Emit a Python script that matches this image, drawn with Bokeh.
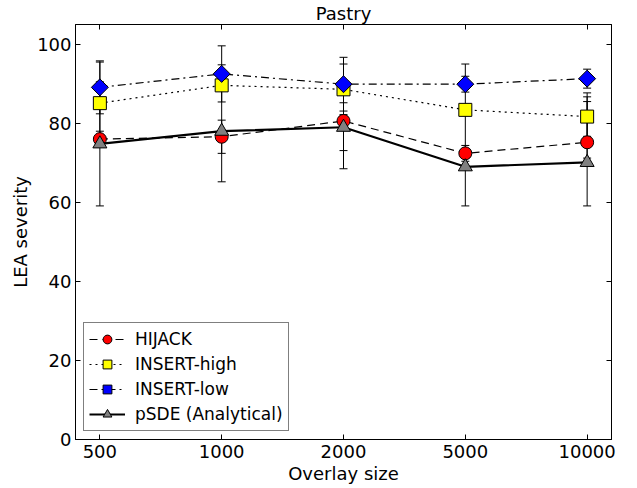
from bokeh.plotting import figure
from bokeh.models import (Range1d, FixedTicker, LinearAxis, ColumnDataSource, Whisker,
                          TeeHead, Legend, LegendItem)
from bokeh.embed import file_html
from bokeh.resources import INLINE
import numpy as np

# ---- data ----
overlay_sizes = ["500", "1000", "2000", "5000", "10000"]

hijack = [76.0, 76.6, 80.6, 72.4, 75.2]
hijack_lo = [74.0, 72.4, 73.1, 70.4, 71.2]
hijack_hi = [78.0, 80.8, 85.2, 74.4, 85.5]

insert_high = [85.1, 89.6, 88.6, 83.4, 81.7]
insert_high_lo = [74.7, 88.9, 82.2, 83.0, 76.7]
insert_high_hi = [95.5, 90.2, 95.0, 83.8, 86.7]

insert_low = [89.1, 92.5, 89.9, 89.9, 91.3]
insert_low_lo = [82.4, 85.4, 83.1, 87.9, 88.9]
insert_low_hi = [95.8, 99.6, 96.7, 91.9, 93.7]

p_sde = [74.8, 78.0, 79.0, 69.0, 70.1]
p_sde_lo = [59.1, 65.2, 68.5, 59.1, 59.1]
p_sde_hi = [90.5, 94.8, 90.4, 95.0, 87.7]

y_ticks = [0, 20, 40, 60, 80, 100]

FONT = "DejaVu Sans"
xs = list(range(len(overlay_sizes)))

p = figure(width=637, height=488, output_backend="svg", toolbar_location=None,
           x_range=Range1d(-0.2, len(overlay_sizes) - 1 + 0.2), y_range=Range1d(0, 105),
           min_border_left=75, min_border_right=26, min_border_top=0, min_border_bottom=49,
           title="Pastry")
p.title.align = "center"
p.title.text_font = FONT
p.title.text_font_size = "18px"
p.title.text_font_style = "normal"
p.title.text_color = "black"
p.title.standoff = 1
p.title.offset = 0
p.xgrid.visible = False
p.ygrid.visible = False
p.outline_line_color = "black"
p.outline_line_width = 1
p.background_fill_color = "white"
p.border_fill_color = "white"

def style_axis(ax, labels=True):
    ax.axis_line_color = "black"
    ax.major_tick_in = 5
    ax.major_tick_out = 0
    ax.minor_tick_line_color = None
    ax.major_tick_line_color = "black"
    ax.major_label_text_font = FONT
    ax.major_label_text_font_size = "18px"
    ax.major_label_text_color = "black"
    ax.axis_label_text_font = FONT
    ax.axis_label_text_font_size = "18px"
    ax.axis_label_text_font_style = "normal"
    ax.axis_label_text_color = "black"
    if not labels:
        ax.major_label_text_font_size = "1px"
        ax.major_label_standoff = 0

xax = p.xaxis[0]
yax = p.yaxis[0]
xax.ticker = FixedTicker(ticks=xs)
xax.major_label_overrides = {i: s for i, s in enumerate(overlay_sizes)}
yax.ticker = FixedTicker(ticks=y_ticks)
xax.axis_label = "Overlay size"
yax.axis_label = "LEA severity"
style_axis(xax)
style_axis(yax)
xax.major_label_standoff = 5
xax.axis_label_standoff = 2
yax.major_label_standoff = 4
yax.axis_label_standoff = 3

top = LinearAxis(ticker=FixedTicker(ticks=xs), major_label_overrides={i: "" for i in xs})
right = LinearAxis(ticker=FixedTicker(ticks=y_ticks), major_label_overrides={t: "" for t in y_ticks})
style_axis(top, labels=False)
style_axis(right, labels=False)
p.add_layout(top, "above")
p.add_layout(right, "right")

series = [
    ("HIJACK", hijack, hijack_lo, hijack_hi, "circle", "#ff0000", 13, 0.0, "8 5", 1.2),
    ("INSERT-high", insert_high, insert_high_lo, insert_high_hi, "square", "#ffff00", 13, 0.0, "2 4", 1.2),
    ("INSERT-low", insert_low, insert_low_lo, insert_low_hi, "square", "#0000ff", 12, np.pi / 4, "8 4 2 4", 1.2),
    ("pSDE (Analytical)", p_sde, p_sde_lo, p_sde_hi, "triangle", "#808080", 14, 0.0, "solid", 2.2),
]

# error bars first (underneath)
for name, ys, lo, hi, marker, color, size, angle, dash, lw in series:
    src = ColumnDataSource(dict(x=xs, lo=lo, hi=hi))
    w = Whisker(base="x", lower="lo", upper="hi", source=src, line_color="black", line_width=1,
                upper_head=TeeHead(size=8, line_color="black", line_width=1),
                lower_head=TeeHead(size=8, line_color="black", line_width=1))
    p.add_layout(w)

items = []
for name, ys, lo, hi, marker, color, size, angle, dash, lw in series:
    src = ColumnDataSource(dict(x=xs, y=ys))
    ln = p.line("x", "y", source=src, line_color="black", line_width=lw, line_dash=dash)
    sc = p.scatter("x", "y", source=src, marker=marker, size=size, angle=angle,
                   fill_color=color, line_color="black", line_width=1)
    items.append(LegendItem(label=name, renderers=[ln, sc]))

legend = Legend(items=items, location="bottom_left", margin=8, padding=5,
                glyph_width=36, glyph_height=22, label_height=22, spacing=3,
                label_standoff=10, label_text_font=FONT, label_text_font_size="17px",
                border_line_color="black", border_line_width=1, background_fill_alpha=1,
                label_text_color="black")
p.add_layout(legend, "center")

open("out.html", "w").write(file_html(p, INLINE))
